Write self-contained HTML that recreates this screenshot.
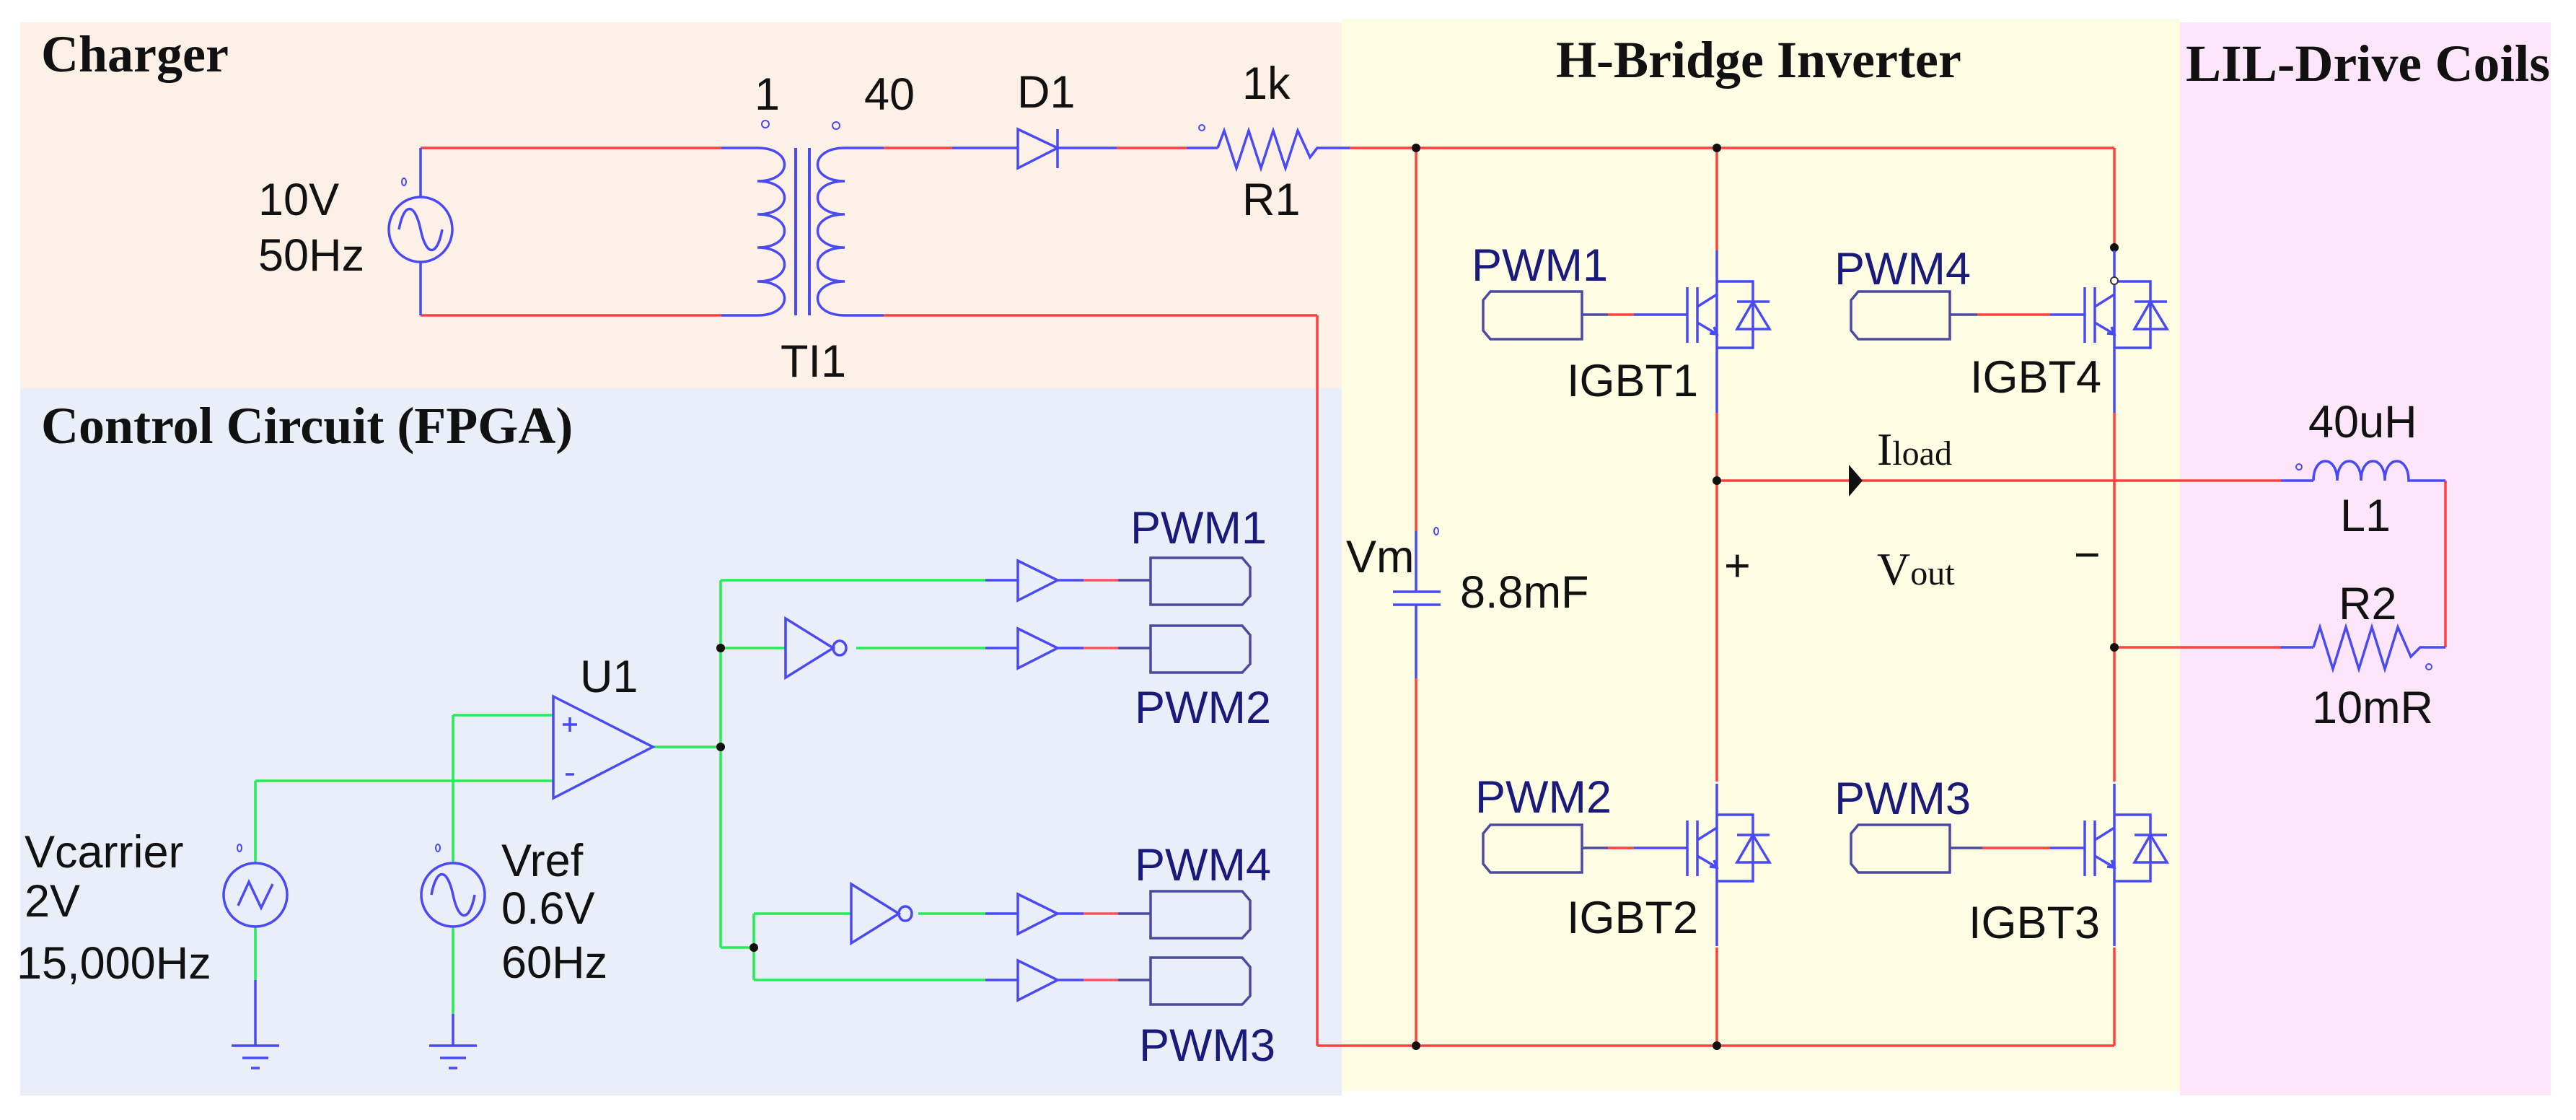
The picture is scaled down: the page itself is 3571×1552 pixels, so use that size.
<!DOCTYPE html>
<html><head><meta charset="utf-8"><style>
html,body{margin:0;padding:0;background:#fff}
svg{display:block}
.s{font-family:"Liberation Sans",sans-serif;font-size:63px;fill:#111}
.p{font-family:"Liberation Sans",sans-serif;font-size:63px;fill:#1a1a7a}
.h{font-family:"Liberation Serif",serif;font-weight:bold;font-size:72px;fill:#111}
.r{font-family:"Liberation Serif",serif;font-size:64px;fill:#111}
</style></head><body>
<svg width="3571" height="1552" viewBox="0 0 3571 1552" xmlns="http://www.w3.org/2000/svg">
<defs>
<g id="igbt" fill="none" stroke="#4a4af5" stroke-width="3.5">
  <line x1="0" y1="-89" x2="0" y2="136"/>
  <line x1="-41" y1="-38" x2="-41" y2="39"/>
  <line x1="-27" y1="-38" x2="-27" y2="39"/>
  <line x1="-27" y1="-11" x2="0" y2="-28"/>
  <line x1="-27" y1="11" x2="0" y2="27"/>
  <path d="M-10 26 L0 27 L-4 17"/>
  <polyline points="0,-46 50,-46 50,46 0,46"/>
  <line x1="28" y1="-18" x2="73" y2="-18"/>
  <polygon points="50,-18 28,20 73,20"/>
</g>
<g id="gbox" fill="none" stroke="#4a4aa0" stroke-width="3.5">
  <polygon points="137,-32 10,-32 0,-20 0,22 10,34 137,34"/>
</g>
<g id="obox" fill="none" stroke="#4a4aa0" stroke-width="3.5">
  <polygon points="0,-31 127,-31 138,-18 138,22 127,34 0,34"/>
</g>
<g id="buf" fill="none" stroke="#4a4af5" stroke-width="3.5">
  <polygon points="0,-27 55,0 0,28"/>
</g>
<g id="inv" fill="none" stroke="#4a4af5" stroke-width="3.5">
  <polygon points="0,-41 66,0 0,41"/>
  <ellipse cx="75" cy="0" rx="9" ry="10"/>
</g>
<g id="gnd" fill="none" stroke="#4a4af5" stroke-width="3.5">
  <line x1="-33" y1="0" x2="33" y2="0"/>
  <line x1="-18" y1="17" x2="18" y2="17"/>
  <line x1="-6" y1="31" x2="6" y2="31"/>
</g>
</defs>

<rect x="28" y="31" width="1832" height="507" fill="#fdf0e6"/>
<rect x="28" y="538" width="1832" height="980" fill="#eaeef8"/>
<rect x="1860" y="26" width="1162" height="1486" fill="#fefde4"/>
<rect x="3022" y="31" width="514" height="1487" fill="#fde6fa"/>

<text class="h" x="57" y="99">Charger</text>
<text class="h" x="57" y="614">Control Circuit (FPGA)</text>
<text class="h" x="2157" y="107">H-Bridge Inverter</text>
<text class="h" x="3030" y="112" textLength="505" lengthAdjust="spacingAndGlyphs">LIL-Drive Coils</text>

<g fill="none" stroke-width="3.5">
<line x1="583" y1="205" x2="1000" y2="205" stroke="#ff4040"/>
<line x1="583" y1="437" x2="1000" y2="437" stroke="#ff4040"/>
<line x1="583" y1="205" x2="583" y2="273" stroke="#4a4af5"/>
<line x1="583" y1="363" x2="583" y2="437" stroke="#4a4af5"/>
<line x1="1000" y1="205" x2="1050" y2="205" stroke="#4a4af5"/>
<line x1="1000" y1="437" x2="1050" y2="437" stroke="#4a4af5"/>
<ellipse cx="583" cy="318" rx="44" ry="45" stroke="#4a4af5"/>
<path d="M553 318 C560 280 575 280 583 318 C591 356 606 356 613 318" stroke="#4a4af5"/>
<ellipse cx="560" cy="252" rx="3" ry="5" stroke="#4a4af5" stroke-width="2"/>
<path d="M1050 205 C1100 205 1100 251 1050 251 C1100 251 1100 297 1050 297 C1100 297 1100 343 1050 343 C1100 343 1100 390 1050 390 C1100 390 1100 437 1050 437" stroke="#4a4af5"/>
<path d="M1171 205 C1121 205 1121 251 1171 251 C1121 251 1121 297 1171 297 C1121 297 1121 343 1171 343 C1121 343 1121 390 1171 390 C1121 390 1121 437 1171 437" stroke="#4a4af5"/>
<line x1="1103" y1="205" x2="1103" y2="437" stroke="#4a4af5" stroke-width="4"/>
<line x1="1122" y1="205" x2="1122" y2="437" stroke="#4a4af5" stroke-width="4"/>
<circle cx="1061" cy="172" r="5" stroke="#4a4af5" stroke-width="2"/>
<circle cx="1159" cy="174" r="5" stroke="#4a4af5" stroke-width="2"/>
<line x1="1171" y1="205" x2="1225" y2="205" stroke="#4a4af5"/>
<line x1="1225" y1="205" x2="1320" y2="205" stroke="#ff4040"/>
<line x1="1320" y1="205" x2="1411" y2="205" stroke="#4a4af5"/>
<polygon points="1411,179 1466,205 1411,233" stroke="#4a4af5"/>
<line x1="1466" y1="179" x2="1466" y2="233" stroke="#4a4af5"/>
<line x1="1466" y1="205" x2="1548" y2="205" stroke="#4a4af5"/>
<line x1="1548" y1="205" x2="1645" y2="205" stroke="#ff4040"/>
<line x1="1645" y1="205" x2="1688" y2="205" stroke="#4a4af5"/>
<polyline points="1688,205 1697,181 1714,233 1731,181 1748,233 1765,181 1782,233 1799,181 1816,218 1826,205 1871,205" stroke="#4a4af5"/>
<circle cx="1666" cy="177" r="4" stroke="#4a4af5" stroke-width="2"/>
<line x1="1171" y1="437" x2="1225" y2="437" stroke="#4a4af5"/>
<line x1="1225" y1="437" x2="1826" y2="437" stroke="#ff4040"/>
<line x1="1826" y1="437" x2="1826" y2="1449" stroke="#ff4040"/>
</g>
<text class="s" x="358" y="298">10V</text>
<text class="s" x="358" y="375">50Hz</text>
<text class="s" x="1046" y="152">1</text>
<text class="s" x="1198" y="152">40</text>
<text class="s" x="1410" y="149">D1</text>
<text class="s" x="1722" y="137">1k</text>
<text class="s" x="1722" y="298">R1</text>
<text class="s" x="1082" y="522">TI1</text>

<g fill="none" stroke="#ff4040" stroke-width="3.5">
<line x1="1871" y1="205" x2="2931" y2="205"/>
<line x1="1826" y1="1449" x2="2931" y2="1449"/>
<line x1="1963" y1="205" x2="1963" y2="736"/>
<line x1="1963" y1="940" x2="1963" y2="1449"/>
<line x1="2380" y1="205" x2="2380" y2="347"/>
<line x1="2380" y1="572" x2="2380" y2="1083"/>
<line x1="2380" y1="1313" x2="2380" y2="1449"/>
<line x1="2931" y1="205" x2="2931" y2="347"/>
<line x1="2931" y1="572" x2="2931" y2="1083"/>
<line x1="2931" y1="1313" x2="2931" y2="1449"/>
<line x1="2380" y1="666" x2="3162" y2="666"/>
<line x1="2931" y1="897" x2="3162" y2="897"/>
<line x1="3390" y1="666" x2="3390" y2="897"/>
</g>
<g fill="#111">
<circle cx="1963" cy="205" r="6"/><circle cx="2380" cy="205" r="6"/>
<circle cx="2931" cy="343" r="6"/><circle cx="2380" cy="666" r="6"/>
<circle cx="2931" cy="897" r="6"/><circle cx="1963" cy="1449" r="6"/>
<circle cx="2380" cy="1449" r="6"/>
<polygon points="2563,644 2582,666 2563,688"/>
</g>
<g fill="none" stroke="#4a4af5" stroke-width="3.5">
<line x1="1963" y1="736" x2="1963" y2="820"/>
<line x1="1963" y1="838" x2="1963" y2="940"/>
<line x1="1931" y1="820" x2="1997" y2="820"/>
<line x1="1931" y1="838" x2="1997" y2="838"/>
<ellipse cx="1991" cy="736" rx="3" ry="5" stroke-width="2"/>
</g>
<text class="s" x="1866" y="793">Vm</text>
<text class="s" x="2024" y="842">8.8mF</text>

<use href="#igbt" x="2380" y="436"/>
<use href="#igbt" x="2931" y="436"/>
<use href="#igbt" x="2380" y="1175"/>
<use href="#igbt" x="2931" y="1175"/>
<circle cx="2931" cy="389" r="5" fill="#fff" stroke="#333" stroke-width="2"/>
<use href="#gbox" x="2056" y="436"/>
<use href="#gbox" x="2566" y="436"/>
<use href="#gbox" x="2056" y="1175"/>
<use href="#gbox" x="2566" y="1175"/>
<g stroke-width="3.5">
<line x1="2193" y1="436" x2="2229" y2="436" stroke="#4a4aa0"/><line x1="2229" y1="436" x2="2265" y2="436" stroke="#ff4040"/><line x1="2265" y1="436" x2="2339" y2="436" stroke="#4a4af5"/>
<line x1="2703" y1="436" x2="2741" y2="436" stroke="#4a4aa0"/><line x1="2741" y1="436" x2="2842" y2="436" stroke="#ff4040"/><line x1="2842" y1="436" x2="2890" y2="436" stroke="#4a4af5"/>
<line x1="2193" y1="1175" x2="2229" y2="1175" stroke="#4a4aa0"/><line x1="2229" y1="1175" x2="2265" y2="1175" stroke="#ff4040"/><line x1="2265" y1="1175" x2="2339" y2="1175" stroke="#4a4af5"/>
<line x1="2703" y1="1175" x2="2748" y2="1175" stroke="#4a4aa0"/><line x1="2748" y1="1175" x2="2842" y2="1175" stroke="#ff4040"/><line x1="2842" y1="1175" x2="2890" y2="1175" stroke="#4a4af5"/>
</g>
<text class="p" x="2040" y="389">PWM1</text>
<text class="p" x="2543" y="394">PWM4</text>
<text class="p" x="2045" y="1126">PWM2</text>
<text class="p" x="2543" y="1128">PWM3</text>
<text class="s" x="2172" y="549">IGBT1</text>
<text class="s" x="2731" y="544">IGBT4</text>
<text class="s" x="2172" y="1293">IGBT2</text>
<text class="s" x="2729" y="1300">IGBT3</text>
<text class="r" x="2602" y="644">I<tspan font-size="48">load</tspan></text>
<text class="r" x="2602" y="810">V<tspan font-size="48">out</tspan></text>
<text class="s" x="2390" y="805" font-size="54">+</text>
<text class="s" x="2875" y="790" font-size="54">−</text>

<g fill="none" stroke-width="3.5">
<line x1="3162" y1="666" x2="3207" y2="666" stroke="#4a4af5"/>
<path d="M3207 666 C3207 630 3240 630 3240 666 C3240 630 3273 630 3273 666 C3273 630 3306 630 3306 666 C3306 630 3339 630 3339 666 L3390 666" stroke="#4a4af5"/>
<circle cx="3187" cy="647" r="4" stroke="#4a4af5" stroke-width="2"/>
<line x1="3162" y1="897" x2="3207" y2="897" stroke="#4a4af5"/>
<polyline points="3207,897 3216,869 3234,927 3252,869 3270,927 3288,869 3306,927 3324,869 3342,910 3355,897 3390,897" stroke="#4a4af5"/>
<circle cx="3367" cy="924" r="4" stroke="#4a4af5" stroke-width="2"/>
</g>
<text class="s" x="3200" y="606">40uH</text>
<text class="s" x="3244" y="736">L1</text>
<text class="s" x="3242" y="858">R2</text>
<text class="s" x="3205" y="1002">10mR</text>

<g fill="none" stroke="#22ee55" stroke-width="3.5">
<line x1="999" y1="804" x2="999" y2="1313"/>
<line x1="999" y1="804" x2="1366" y2="804"/>
<line x1="999" y1="898" x2="1089" y2="898"/>
<line x1="1187" y1="898" x2="1366" y2="898"/>
<line x1="905" y1="1035" x2="999" y2="1035"/>
<line x1="999" y1="1313" x2="1045" y2="1313"/>
<line x1="1045" y1="1266" x2="1045" y2="1358"/>
<line x1="1045" y1="1266" x2="1180" y2="1266"/>
<line x1="1273" y1="1266" x2="1366" y2="1266"/>
<line x1="1045" y1="1358" x2="1366" y2="1358"/>
<line x1="628" y1="991" x2="767" y2="991"/>
<line x1="354" y1="1082" x2="767" y2="1082"/>
<line x1="628" y1="991" x2="628" y2="1196"/>
<line x1="354" y1="1082" x2="354" y2="1196"/>
<line x1="628" y1="1284" x2="628" y2="1405"/>
<line x1="354" y1="1284" x2="354" y2="1358"/>
</g>
<g fill="none" stroke="#4a4af5" stroke-width="3.5">
<line x1="1366" y1="804" x2="1411" y2="804"/>
<line x1="1366" y1="898" x2="1411" y2="898"/>
<line x1="1366" y1="1266" x2="1411" y2="1266"/>
<line x1="1366" y1="1358" x2="1411" y2="1358"/>
<line x1="628" y1="1405" x2="628" y2="1449"/>
<line x1="354" y1="1358" x2="354" y2="1449"/>
<polygon points="767,965 905,1035 767,1106"/>
<line x1="780" y1="1004" x2="800" y2="1004"/><line x1="790" y1="994" x2="790" y2="1014"/>
<line x1="784" y1="1073" x2="796" y2="1073"/>
<ellipse cx="354" cy="1240" rx="44" ry="44"/>
<polyline points="330,1255 345,1222 362,1258 378,1225"/>
<ellipse cx="628" cy="1240" rx="44" ry="44"/>
<path d="M598 1240 C605 1202 620 1202 628 1240 C636 1278 651 1278 658 1240"/>
<ellipse cx="332" cy="1175" rx="3" ry="5" stroke-width="2"/>
<ellipse cx="607" cy="1175" rx="3" ry="5" stroke-width="2"/>
</g>
<use href="#gnd" x="354" y="1449"/>
<use href="#gnd" x="628" y="1449"/>
<use href="#buf" x="1411" y="804"/>
<use href="#buf" x="1411" y="898"/>
<use href="#buf" x="1411" y="1266"/>
<use href="#buf" x="1411" y="1358"/>
<use href="#inv" x="1089" y="898"/>
<use href="#inv" x="1180" y="1266"/>
<g stroke-width="3.5">
<line x1="1466" y1="804" x2="1502" y2="804" stroke="#4a4af5"/><line x1="1502" y1="804" x2="1550" y2="804" stroke="#ff5060"/><line x1="1550" y1="804" x2="1595" y2="804" stroke="#4a4aa0"/>
<line x1="1466" y1="898" x2="1502" y2="898" stroke="#4a4af5"/><line x1="1502" y1="898" x2="1550" y2="898" stroke="#ff5060"/><line x1="1550" y1="898" x2="1595" y2="898" stroke="#4a4aa0"/>
<line x1="1466" y1="1266" x2="1502" y2="1266" stroke="#4a4af5"/><line x1="1502" y1="1266" x2="1550" y2="1266" stroke="#ff5060"/><line x1="1550" y1="1266" x2="1595" y2="1266" stroke="#4a4aa0"/>
<line x1="1466" y1="1358" x2="1502" y2="1358" stroke="#4a4af5"/><line x1="1502" y1="1358" x2="1550" y2="1358" stroke="#ff5060"/><line x1="1550" y1="1358" x2="1595" y2="1358" stroke="#4a4aa0"/>
</g>
<use href="#obox" x="1595" y="804"/>
<use href="#obox" x="1595" y="898"/>
<use href="#obox" x="1595" y="1266"/>
<use href="#obox" x="1595" y="1358"/>
<g fill="#111">
<circle cx="999" cy="898" r="6"/><circle cx="999" cy="1035" r="6"/><circle cx="1045" cy="1313" r="6"/>
</g>
<text class="p" x="1567" y="753">PWM1</text>
<text class="p" x="1573" y="1002">PWM2</text>
<text class="p" x="1573" y="1220">PWM4</text>
<text class="p" x="1579" y="1470">PWM3</text>
<text class="s" x="804" y="959">U1</text>
<text class="s" x="34" y="1202">Vcarrier</text>
<text class="s" x="34" y="1270">2V</text>
<text class="s" x="23" y="1356">15,000Hz</text>
<text class="s" x="695" y="1214">Vref</text>
<text class="s" x="695" y="1280">0.6V</text>
<text class="s" x="695" y="1355">60Hz</text>
</svg>
</body></html>
